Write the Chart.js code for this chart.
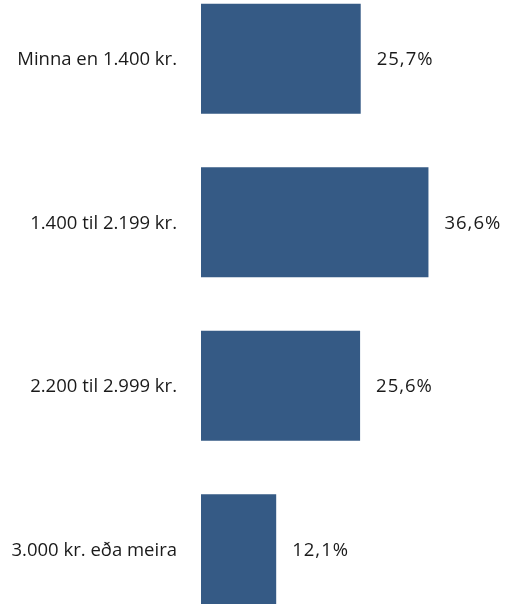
<!DOCTYPE html>
<html>
<head>
<meta charset="utf-8">
<script src="https://cdn.jsdelivr.net/npm/chart.js@4"></script>
<style>
  html, body { margin: 0; padding: 0; background: #fff; overflow: hidden; }
  #wrap { position: absolute; left: 0; top: -23px; width: 508px; height: 654px; }
</style>
</head>
<body>
<div id="wrap"><canvas id="grafica"></canvas></div>
<script>
// Flokkar og gildi (%)
const flokkar = ["Minna en 1.400 kr.", "1.400 til 2.199 kr.", "2.200 til 2.999 kr.", "3.000 kr. eða meira"];
const hlutfall = [25.7, 36.6, 25.6, 12.1];

const letur = "18.5px 'Open Sans', sans-serif";
const textalitur = "#1a1a1a";

// flokkaheiti vinstra megin og gildin hægra megin við súlurnar
const merkingar = {
    id: "merkingar",
    afterDatasetsDraw(chart) {
        const ctx = chart.ctx;
        const ys = chart.scales.y;
        const meta = chart.getDatasetMeta(0);
        ctx.save();
        ctx.font = letur;
        ctx.fillStyle = textalitur;
        ctx.textBaseline = "middle";
        // heiti, hægrijöfnuð
        ctx.textAlign = "right";
        chart.data.labels.forEach(function(heiti, i) {
            ctx.fillText(heiti, ys.left + 177, ys.getPixelForTick(i) + 1);
        });
        // gildi
        ctx.textAlign = "left";
        ctx.letterSpacing = "1px";
        meta.data.forEach(function(bar, i) {
            const texti = hlutfall[i].toFixed(1).replace(".", ",") + "%";
            ctx.fillText(texti, bar.x + 16, bar.y + 1);
        });
        ctx.restore();
    }
};

new Chart(document.getElementById("grafica").getContext("2d"), {
    type: "bar",
    data: {
        labels: flokkar,
        datasets: [{
            data: hlutfall,
            backgroundColor: "#355a85",
            borderWidth: 0,
            barPercentage: 0.673,
            categoryPercentage: 1
        }]
    },
    options: {
        indexAxis: "y",
        responsive: true,
        maintainAspectRatio: false,
        animation: false,
        layout: { padding: 0 },
        scales: {
            x: {
                display: false,
                min: 0,
                max: 49.4
            },
            y: {
                grid: { display: false, drawTicks: false },
                border: { display: false },
                afterFit: function(axis) { axis.width = 201; },
                ticks: { display: false }
            }
        },
        plugins: {
            legend: { display: false },
            tooltip: { enabled: false }
        }
    },
    plugins: [merkingar]
});
</script>
</body>
</html>
